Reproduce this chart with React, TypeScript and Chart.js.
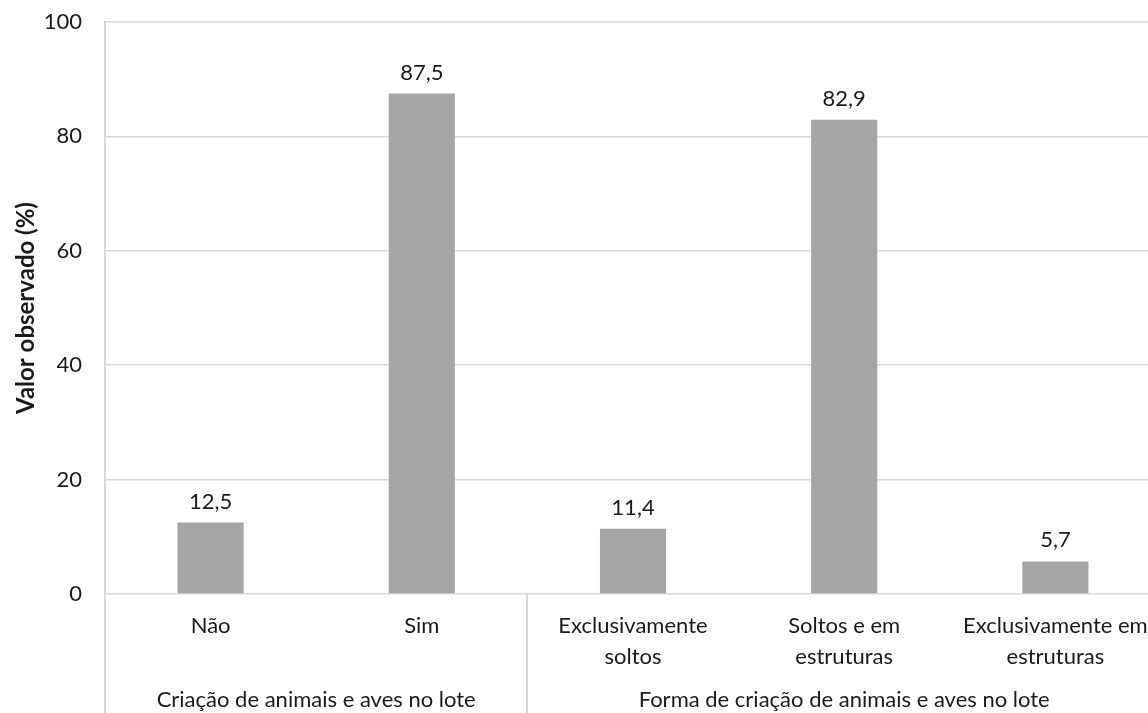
import React, { useEffect, useRef } from "react";
import { Chart, registerables } from "chart.js";
Chart.register(...registerables);

const categories: string[][] = [
  ["Não"],
  ["Sim"],
  ["Exclusivamente", "soltos"],
  ["Soltos e em", "estruturas"],
  ["Exclusivamente em", "estruturas"],
];
const values = [12.5, 87.5, 11.4, 82.9, 5.7];
const groupLabels = ["Criação de animais e aves no lote", "Forma de criação de animais e aves no lote"];
const groupSizes = [2, 3];
const yMin = 0;
const yMax = 100;
const yStep = 20;
const yTitle = "Valor observado (%)";

const FONT = "Lato, 'Open Sans', sans-serif";
const FS = 22;
const TEXT = "#1a1a1a";
const BAR = "#a5a5a5";
const GRID = "#d9d9d9";

const fmt = (v: number) => v.toFixed(1).replace(".", ",");

const extras = {
  id: "extras",
  afterDraw(chart: any) {
    const ctx = chart.ctx;
    const area = chart.chartArea;
    const xs = chart.scales.x;
    const H = chart.height;
    ctx.save();
    const meta = chart.getDatasetMeta(0);
    ctx.font = `${FS}px ${FONT}`;
    ctx.fillStyle = TEXT;
    ctx.textAlign = "center";
    ctx.textBaseline = "middle";
    meta.data.forEach((el: any, i: number) => {
      ctx.fillText(fmt(values[i]), el.x, el.y - 21);
    });
    ctx.strokeStyle = GRID;
    ctx.lineWidth = 2;
    const half = (xs.getPixelForValue(1) - xs.getPixelForValue(0)) / 2;
    let idx = 0;
    const bounds: number[] = [area.left];
    groupSizes.forEach((n) => {
      idx += n;
      bounds.push(xs.getPixelForValue(idx - 1) + half);
    });
    bounds.forEach((bx, k) => {
      ctx.beginPath();
      ctx.moveTo(Math.round(bx), k === 0 ? area.top : area.bottom);
      ctx.lineTo(Math.round(bx), H);
      ctx.stroke();
    });
    ctx.fillStyle = TEXT;
    ctx.font = `${FS}px ${FONT}`;
    groupLabels.forEach((g, k) => {
      ctx.fillText(g, (bounds[k] + bounds[k + 1]) / 2, 700);
    });
    ctx.restore();
  },
};

export default function App() {
  const ref = useRef<HTMLCanvasElement>(null);
  useEffect(() => {
    const chart = new Chart(ref.current!, {
      type: "bar",
      data: {
        labels: categories,
        datasets: [
          {
            data: values,
            backgroundColor: BAR,
            categoryPercentage: 1,
            barPercentage: 0.313,
          },
        ],
      },
      options: {
        animation: false,
        responsive: false,
        devicePixelRatio: 1,
        layout: { padding: { left: 0, top: 22, right: 14, bottom: 0 } },
        plugins: { legend: { display: false }, tooltip: { enabled: false } },
        scales: {
          x: {
            grid: { display: false },
            border: { display: false },
            ticks: {
              color: TEXT,
              font: { family: FONT, size: FS, lineHeight: 31 / FS },
              padding: 8,
              maxRotation: 0,
              autoSkip: false,
            },
            afterFit: (s: any) => {
              s.height = 119;
            },
          },
          y: {
            min: yMin,
            max: yMax,
            ticks: {
              stepSize: yStep,
              color: TEXT,
              font: { family: FONT, size: FS },
              padding: 23,
              callback: (v: any) => String(v),
            },
            grid: { color: GRID, lineWidth: 1.5, drawTicks: false },
            border: { display: true, color: "#bfbfbf", width: 1.5 },
            title: {
              display: true,
              text: yTitle,
              color: TEXT,
              font: { family: FONT, size: 24, weight: "bold" },
              padding: { top: 12, bottom: 0 },
            },
            afterFit: (s: any) => {
              s.width = 105;
              s.paddingTop = 0;
              s.paddingBottom = 0;
            },
          },
        },
      },
      plugins: [extras],
    });
    return () => chart.destroy();
  }, []);
  return (
    <div
      style={{
        position: "absolute",
        left: 0,
        top: 0,
        width: 1148,
        height: 713,
        overflow: "hidden",
        background: "#fff",
      }}
    >
      <canvas ref={ref} width={1175} height={713} style={{ display: "block" }} />
    </div>
  );
}
